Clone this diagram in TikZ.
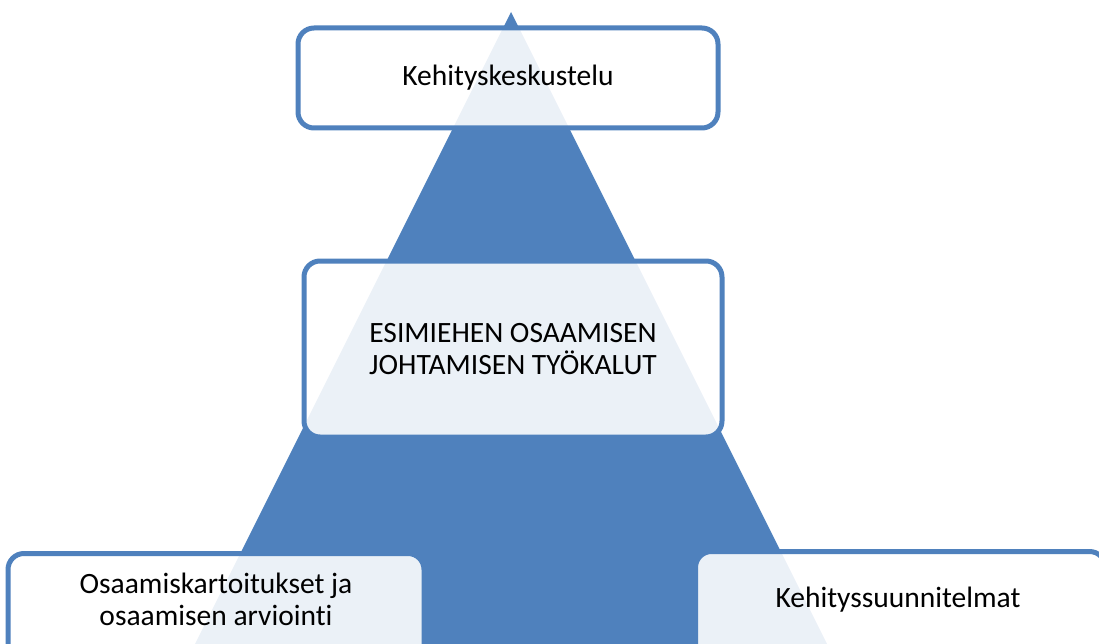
\documentclass[tikz,border=0pt]{standalone}
\usepackage{fontspec}
\setmainfont[Ligatures=NoCommon]{Carlito}
\definecolor{pyramidblue}{HTML}{4F81BD}
\begin{document}
\begin{tikzpicture}[x=1pt,y=-1pt,
  toolbox/.style={draw=pyramidblue, line width=5pt, rounded corners=16pt,
    fill=white, fill opacity=0.89, text opacity=1, inner sep=0pt},
  label text/.style={font=\fontsize{29.5}{32}\selectfont, align=center, text=black}]
  \useasboundingbox (0,0) rectangle (1099,644);
  \clip (0,0) rectangle (1099,644);
  % pyramid
  \fill[pyramidblue] (511,12) -- (905,800) -- (117,800) -- cycle;
  % boxes
  \node[toolbox, minimum width=420pt, minimum height=100pt] (top) at (508,78) {};
  \node[label text] (toptxt) at (top.center) {Kehityskeskustelu};
  \node[toolbox, minimum width=418pt, minimum height=176pt] (mid) at (513,349) {};
  \node[label text] (midtxt) at (mid.center) {ESIMIEHEN OSAAMISEN\\JOHTAMISEN TYÖKALUT};
  \node[toolbox, anchor=north, minimum width=416pt, minimum height=200pt] (left) at (216,551) {};
  \node[label text] (lefttxt) at (216,599) {Osaamiskartoitukset ja\\osaamisen arviointi};
  \node[toolbox, anchor=north west, minimum width=410pt, minimum height=200pt] (right) at (693,549) {};
  \node[label text] (righttxt) at (898,600) {Kehityssuunnitelmat};
\end{tikzpicture}
\end{document}
